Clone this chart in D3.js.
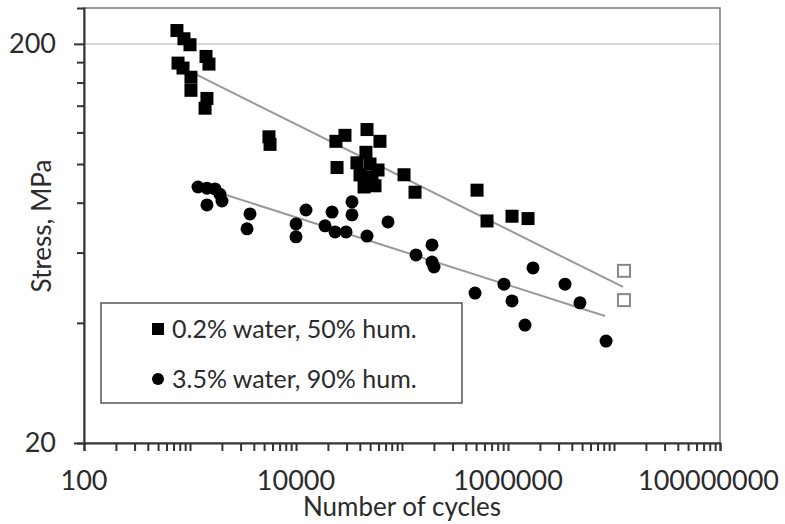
<!DOCTYPE html>
<html>
<head>
<meta charset="utf-8">
<script src="https://cdn.jsdelivr.net/npm/d3@7"></script>
<style>
  body { margin: 0; background: #fff; }
  text { font-family: Lato, "Open Sans", sans-serif; fill: #2b2b2b; }
</style>
</head>
<body>
<div id="chart"></div>
<script>
// 0.2% water, 50% humidity (filled squares)
var sqCycles = [753, 877, 1000, 1416, 1510, 771, 859, 1021, 1021, 1445, 1387,
  5559, 5690, 23800, 28970, 46770, 61940, 24380,
  45700, 37580, 49900, 59430, 40180, 52120, 43850, 55610,
  104500, 132700, 510500, 634000, 1091000, 1545000];
var sqStress = [216, 206, 199, 186, 178, 179, 174, 165, 153, 146, 138,
  117, 112, 114, 118, 122, 114, 98,
  107, 100.7, 100, 96.6, 93.9, 92.8, 87.6, 88.2,
  94, 85, 86, 72, 74, 73];
// run-outs (open squares)
var runCycles = [12420000, 12420000];
var runStress = [54, 45.6];
// 3.5% water, 90% humidity (filled circles)
var ciCycles = [1189, 1445, 1722, 1919, 1445, 2004, 3681, 3452, 12420, 10000, 10000,
  21880, 18790, 23340, 29650, 33730, 33730, 73800, 46770,
  135500, 191900, 191900, 200500, 1722000, 488700, 916000, 1091000,
  3451000, 4774000, 1446000, 8414000];
var ciStress = [87.6, 87, 86.6, 84, 79, 80.8, 75, 68.8, 76.7, 70.8, 65.7,
  75.8, 70, 67.6, 67.6, 80.4, 74.6, 71.6, 66,
  59.2, 62.7, 56.8, 55.2, 54.9, 47.5, 50, 45.4,
  50, 44.9, 39.5, 36];
// power-law trend lines, end points
var fitSqCycles = [1164, 12160000];
var fitSqStress = [167.2, 49.2];
var fitCiCycles = [1919, 8220000];
var fitCiStress = [84.6, 41.6];

var xTickLabels = [100, 10000, 1000000, 100000000];
var yTickLabels = [20, 200];
var legendLabels = ["0.2% water, 50% hum.", "3.5% water, 90% hum."];

var width = 785, height = 524;
var svg = d3.select("#chart").append("svg")
  .attr("width", width)
  .attr("height", height);

var x = d3.scaleLog().domain([100, 100000000]).range([84, 720]);
var y = d3.scaleLog().domain([20, 246]).range([443, 8]);

// gridline at 200
svg.append("line")
  .attr("x1", x(100)).attr("x2", x(100000000))
  .attr("y1", y(200)).attr("y2", y(200))
  .style("stroke", "#d9d9d9").style("stroke-width", 2);

// plot frame
svg.append("rect")
  .attr("x", x(100)).attr("y", y(246))
  .attr("width", x(100000000) - x(100))
  .attr("height", y(20) - y(246))
  .style("fill", "none").style("stroke", "#777").style("stroke-width", 1.5);

// x axis with all log ticks
var xTicks = [];
for (var e = 2; e < 8; e++) {
  for (var m = 1; m < 10; m++) xTicks.push(m * Math.pow(10, e));
}
xTicks.push(100000000);
var xAxis = svg.append("g")
  .attr("transform", "translate(0," + y(20) + ")")
  .call(d3.axisBottom(x).tickValues(xTicks).tickSize(8).tickFormat(""));
xAxis.select(".domain").style("stroke", "#333").style("stroke-width", 2);
xAxis.selectAll(".tick line").style("stroke", "#333").style("stroke-width", 2);

xTickLabels.forEach(function(v) {
  var t = svg.append("text")
    .attr("x", x(v)).attr("y", 490)
    .attr("text-anchor", "middle")
    .style("font-size", "27px")
    .text(v);
  var w = t.node().getComputedTextLength();
  if (x(v) + w / 2 > 779) t.attr("x", 779 - w / 2);
});

// y axis, ticks every 20
var yTicks = d3.range(20, 201, 20);
var yAxis = svg.append("g")
  .attr("transform", "translate(" + x(100) + ",0)")
  .call(d3.axisLeft(y).tickValues(yTicks).tickSize(7).tickFormat(""));
yAxis.select(".domain").style("stroke", "#333").style("stroke-width", 2);
yAxis.selectAll(".tick line").style("stroke", "#333").style("stroke-width", 2)
  .attr("x2", function(d) { return (d === 20 || d === 200) ? -10 : -7; });

yTickLabels.forEach(function(v) {
  svg.append("text")
    .attr("x", 56).attr("y", y(v) + 9)
    .attr("text-anchor", "end")
    .style("font-size", "27px")
    .text(v);
});

// axis titles
svg.append("text")
  .attr("x", (x(100) + x(100000000)) / 2).attr("y", 516)
  .attr("text-anchor", "middle")
  .style("font-size", "26px")
  .text("Number of cycles");
svg.append("text")
  .attr("transform", "translate(51,226) rotate(-90)")
  .attr("text-anchor", "middle")
  .style("font-size", "26px")
  .text("Stress, MPa");

// trend lines
var line = d3.line()
  .x(function(d) { return x(d[0]); })
  .y(function(d) { return y(d[1]); });
[[fitSqCycles, fitSqStress], [fitCiCycles, fitCiStress]].forEach(function(f) {
  svg.append("path")
    .datum(f[0].map(function(c, i) { return [c, f[1][i]]; }))
    .attr("d", line)
    .style("fill", "none").style("stroke", "#999").style("stroke-width", 2);
});

var sq = 13;
svg.append("g").selectAll("rect")
  .data(sqCycles.map(function(c, i) { return [c, sqStress[i]]; }))
  .enter().append("rect")
  .attr("x", function(d) { return x(d[0]) - sq / 2; })
  .attr("y", function(d) { return y(d[1]) - sq / 2; })
  .attr("width", sq).attr("height", sq)
  .style("fill", "#000");

svg.append("g").selectAll("rect")
  .data(runCycles.map(function(c, i) { return [c, runStress[i]]; }))
  .enter().append("rect")
  .attr("x", function(d) { return x(d[0]) - 6; })
  .attr("y", function(d) { return y(d[1]) - 6; })
  .attr("width", 12).attr("height", 12)
  .style("fill", "#fff").style("stroke", "#888").style("stroke-width", 2);

svg.append("g").selectAll("circle")
  .data(ciCycles.map(function(c, i) { return [c, ciStress[i]]; }))
  .enter().append("circle")
  .attr("cx", function(d) { return x(d[0]); })
  .attr("cy", function(d) { return y(d[1]); })
  .attr("r", 6.5)
  .style("fill", "#000");

// legend
var legend = svg.append("g");
legend.append("rect")
  .attr("x", 101).attr("y", 303).attr("width", 361).attr("height", 100)
  .style("fill", "#fff").style("stroke", "#555").style("stroke-width", 1.5);
legend.append("rect")
  .attr("x", 152).attr("y", 323).attr("width", 12).attr("height", 12)
  .style("fill", "#000");
legend.append("circle")
  .attr("cx", 158).attr("cy", 379).attr("r", 6)
  .style("fill", "#000");
legendLabels.forEach(function(l, i) {
  legend.append("text")
    .attr("x", 172).attr("y", 338 + i * 50)
    .style("font-size", "25px")
    .text(l);
});
</script>
</body>
</html>
